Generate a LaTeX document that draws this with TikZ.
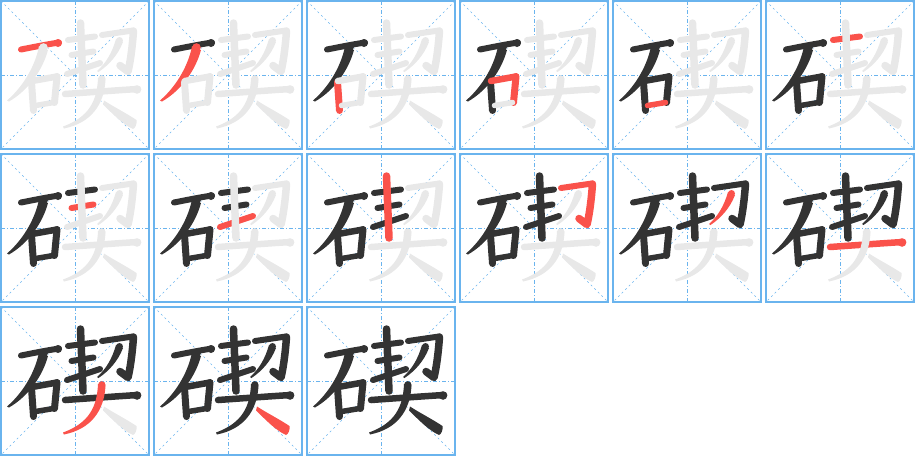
\documentclass[tikz,border=0pt]{standalone}
\usetikzlibrary{calc}
\definecolor{gridblue}{HTML}{6AB4EE}
\definecolor{ink}{HTML}{333333}
\definecolor{hot}{HTML}{FA524B}
\definecolor{ghost}{HTML}{E8E8E8}
\tikzset{
  frame/.style={draw=gridblue, line width=1.2pt},
  guide/.style={draw=gridblue, line width=0.6pt, dash pattern=on 4pt off 2pt on 1pt off 2pt},
  diag/.style={draw=gridblue, line width=0.6pt, dash pattern=on 2pt off 3pt},
  brush/.style={line cap=round, line join=round, line width=6.5pt},
}
\newcommand\drawstk[2]{%
  \ifcase#2\relax
  \or % 1 top horizontal of 石
    \draw[brush, #1, line width=6pt] (20,48.5) .. controls (35,45.5) and (48,43) .. (58,41.5);
    \fill[#1] (57,42) circle (4);
  \or % 2 pie of 石
    \fill[#1] (38,45) .. controls (35,62) and (24,84) .. (6,99.5) -- (8,100.5)
      .. controls (28,89) and (42,68) .. (47,49) -- cycle;
    \fill[#1] (42.5,46.5) circle (4.3);
  \or % 3 vertical of 口
    \draw[brush, #1, line width=7pt] (30.5,81) -- (32.5,109.5);
  \or % 4 heng-zhe of 口
    \draw[brush, #1] (31,80) -- (56,75.5);
    \draw[brush, #1, line width=7pt] (56,75.5) -- (53.5,101.5);
  \or % 5 bottom of 口
    \draw[brush, #1, line width=5.5pt] (34.5,104.5) -- (52.5,101.5);
  \or % 6 契 heng 1
    \draw[brush, #1, line width=6pt] (67,39) -- (94,35.5);
  \or % 7 契 heng 2
    \draw[brush, #1, line width=6pt] (70.5,54) -- (92.5,50.5);
  \or % 8 契 ti
    \draw[brush, #1, line width=6pt] (66,73) -- (99,62);
  \or % 9 契 vertical
    \draw[brush, #1, line width=7.5pt] (79.5,22) -- (82,84);
  \or % 10 heng-zhe-gou
    \draw[brush, #1, line width=6pt] (101,34) -- (132,29.5);
    \draw[brush, #1, line width=7.5pt] (132.5,30) .. controls (131,50) and (129,62) .. (127,70.5) -- (119,64.5);
  \or % 11 pie of 刀
    \fill[#1] (115,38) .. controls (111,52) and (105,62) .. (96,70) -- (97.5,71)
      .. controls (108,64) and (117,54) .. (122,41) -- cycle;
    \fill[#1] (118.5,39.5) circle (3.5);
  \or % 12 大 heng
    \draw[brush, #1] (64,93) .. controls (100,90.5) and (120,89) .. (137,88);
    \fill[#1] (136,88.5) circle (4.3);
  \or % 13 大 pie
    \fill[#1] (97,77) .. controls (96,100) and (88,116) .. (62,125.5) -- (63,127.5)
      .. controls (90,122) and (103,104) .. (104.5,79) -- cycle;
    \fill[#1] (100.8,78) circle (3.8);
  \or % 14 大 na
    \fill[#1] (103,99.5) .. controls (113,106) and (125,112) .. (135.5,119)
      .. controls (136,123) and (134.5,127) .. (132,128)
      .. controls (121,123) and (111,112) .. (102,103.5) -- cycle;
  \fi}
\begin{document}
\begin{tikzpicture}[x=1pt, y=-1pt]
\useasboundingbox (0,0) rectangle (915,456);
\foreach \k in {1,...,15}{
  \pgfmathtruncatemacro\col{mod(\k-1,6)}
  \pgfmathtruncatemacro\row{div(\k-1,6)}
  \begin{scope}[shift={(1+153*\col,1+153*\row)}]
    \path[diag] (0,0) -- (148,148);
    \path[diag] (148,0) -- (0,148);
    \path[guide] (74,0) -- (74,148);
    \path[guide] (0,74) -- (148,74);
    \path[frame] (0,0) rectangle (148,148);
    \foreach \s in {1,...,14}{
      \ifnum\s<\k\relax \def\stkcol{ink}\else
        \ifnum\s=\k\relax \def\stkcol{hot}\else \def\stkcol{ghost}\fi\fi
      \drawstk{\stkcol}{\s}
    }
  \end{scope}
}
\end{tikzpicture}
\end{document}
